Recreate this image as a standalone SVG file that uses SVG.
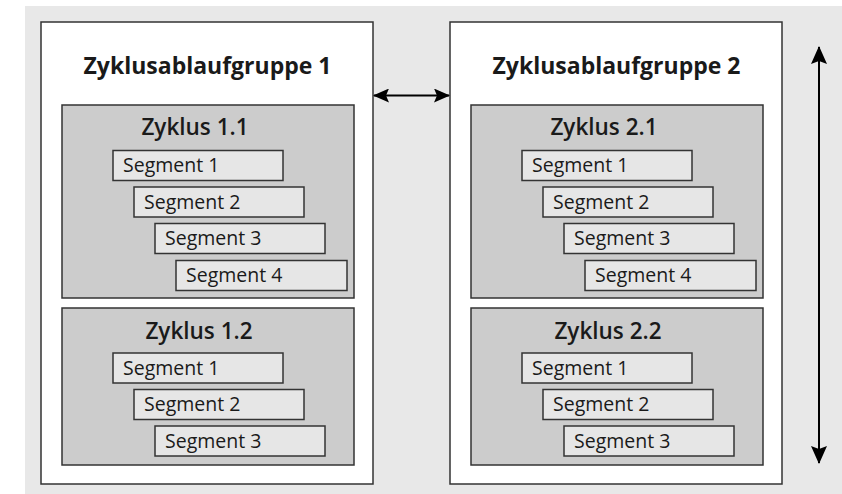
<svg xmlns="http://www.w3.org/2000/svg" width="842" height="494" viewBox="0 0 842 494">
<style>
.grp{fill:#ffffff;stroke:#333333;stroke-width:1.5}
.cyc{fill:#cccccc;stroke:#333333;stroke-width:1.5}
.seg{fill:#e6e6e6;stroke:#333333;stroke-width:1.5}
.t{font-family:"Open Sans","Liberation Sans",sans-serif;fill:#1a1a1a}
.title{font-size:23px;font-weight:700;text-anchor:middle}
.ctitle{font-size:22.5px;font-weight:600;text-anchor:middle}
.st{font-size:19.5px}
.arr{stroke:#000;stroke-width:2;fill:none}
</style>
<defs>
<marker id="ah" viewBox="0 0 16 14" refX="15" refY="7" markerWidth="16" markerHeight="14" markerUnits="userSpaceOnUse" orient="auto-start-reverse">
<path d="M0,0 L16,7 L0,14 L3,7 Z" fill="#000"/>
</marker>
<marker id="av" viewBox="0 0 18 16" refX="17" refY="8" markerWidth="18" markerHeight="16" markerUnits="userSpaceOnUse" orient="auto-start-reverse">
<path d="M0,0 L18,8 L0,16 L3,8 Z" fill="#000"/>
</marker>
</defs>
<rect x="25" y="6" width="817" height="488" fill="#e8e8e8"/>

<g id="gruppe1">
<rect class="grp" x="41" y="22" width="332" height="462"/>
<text class="t title" x="207.5" y="74">Zyklusablaufgruppe 1</text>
<g id="zyklus11">
<rect class="cyc" x="62" y="105" width="292" height="193"/>
<text class="t ctitle" x="195" y="135">Zyklus 1.1</text>
<g id="z11s1"><rect class="seg" x="113" y="150.5" width="170" height="30"/><text class="t st" x="123" y="172">Segment 1</text></g>
<g id="z11s2"><rect class="seg" x="134" y="187" width="170" height="30"/><text class="t st" x="144" y="208.5">Segment 2</text></g>
<g id="z11s3"><rect class="seg" x="155" y="223.5" width="170" height="30"/><text class="t st" x="165" y="245">Segment 3</text></g>
<g id="z11s4"><rect class="seg" x="176" y="260.5" width="171" height="30"/><text class="t st" x="186" y="282">Segment 4</text></g>
</g>
<g id="zyklus12">
<rect class="cyc" x="62" y="308" width="292" height="157"/>
<text class="t ctitle" x="199" y="339">Zyklus 1.2</text>
<g id="z12s1"><rect class="seg" x="113" y="353" width="170" height="30"/><text class="t st" x="123" y="374.5">Segment 1</text></g>
<g id="z12s2"><rect class="seg" x="134" y="389.5" width="170" height="30"/><text class="t st" x="144" y="411">Segment 2</text></g>
<g id="z12s3"><rect class="seg" x="155" y="426" width="170" height="30"/><text class="t st" x="165" y="447.5">Segment 3</text></g>
</g>
</g>

<g id="gruppe2">
<rect class="grp" x="450" y="22" width="332" height="462"/>
<text class="t title" x="616.5" y="74">Zyklusablaufgruppe 2</text>
<g id="zyklus21">
<rect class="cyc" x="471" y="105" width="292" height="193"/>
<text class="t ctitle" x="604" y="135">Zyklus 2.1</text>
<g id="z21s1"><rect class="seg" x="522" y="150.5" width="170" height="30"/><text class="t st" x="532" y="172">Segment 1</text></g>
<g id="z21s2"><rect class="seg" x="543" y="187" width="170" height="30"/><text class="t st" x="553" y="208.5">Segment 2</text></g>
<g id="z21s3"><rect class="seg" x="564" y="223.5" width="170" height="30"/><text class="t st" x="574" y="245">Segment 3</text></g>
<g id="z21s4"><rect class="seg" x="585" y="260.5" width="171" height="30"/><text class="t st" x="595" y="282">Segment 4</text></g>
</g>
<g id="zyklus22">
<rect class="cyc" x="471" y="308" width="292" height="157"/>
<text class="t ctitle" x="608" y="339">Zyklus 2.2</text>
<g id="z22s1"><rect class="seg" x="522" y="353" width="170" height="30"/><text class="t st" x="532" y="374.5">Segment 1</text></g>
<g id="z22s2"><rect class="seg" x="543" y="389.5" width="170" height="30"/><text class="t st" x="553" y="411">Segment 2</text></g>
<g id="z22s3"><rect class="seg" x="564" y="426" width="170" height="30"/><text class="t st" x="574" y="447.5">Segment 3</text></g>
</g>
</g>

<g id="connectors">
<line class="arr" x1="374" y1="95.5" x2="449" y2="95.5" marker-start="url(#ah)" marker-end="url(#ah)"/>
<line class="arr" x1="819" y1="47" x2="819" y2="463" marker-start="url(#av)" marker-end="url(#av)"/>
</g>
</svg>
